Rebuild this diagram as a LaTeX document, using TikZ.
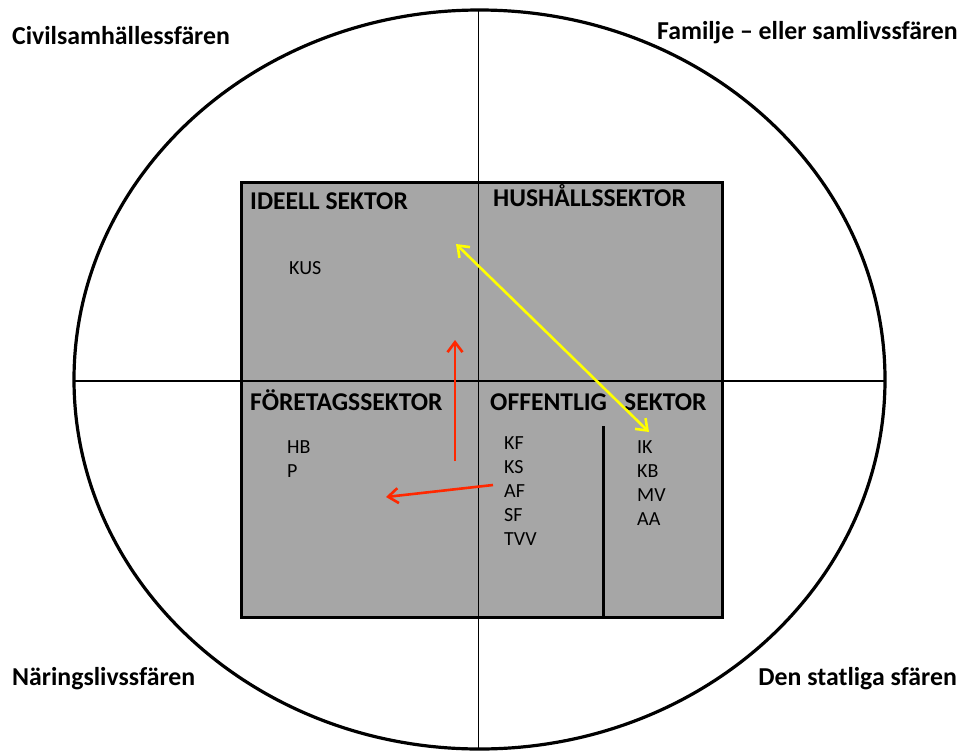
\documentclass[tikz,border=0pt]{standalone}
\usepackage{fontspec}
\setmainfont{Carlito}
\usetikzlibrary{arrows.meta}
\definecolor{boxgray}{RGB}{166,166,166}
\definecolor{arrred}{RGB}{255,40,0}
\definecolor{arryellow}{RGB}{255,255,0}
\tikzset{
  sphere/.style={inner sep=0pt,font=\fontsize{25.8}{30}\selectfont\bfseries},
  sector/.style={inner sep=0pt,anchor=base west,font=\fontsize{25.6}{30}\selectfont\bfseries},
  item/.style={inner sep=0pt,anchor=base west,font=\fontsize{20}{24}\selectfont},
  frame/.style={line width=3pt},
  axis/.style={line width=1.9pt},
  barb/.tip={Straight Barb[length=10pt,width=15pt,line width=2.6pt]},
  redarrow/.style={draw=arrred,line width=2.6pt,-barb},
  yelarrow/.style={draw=arryellow,line width=2.6pt,barb-barb}
}
\begin{document}
\begin{tikzpicture}[x=1pt,y=-1pt]
\useasboundingbox (0,0) rectangle (961,750);
\fill[white] (0,0) rectangle (961,750);
% outer ellipse
\draw[line width=3.2pt] (479.5,379.5) ellipse [x radius=405.5, y radius=369.5];
% central box
\filldraw[fill=boxgray,frame] (241,182) rectangle (722,617);
% axes
\draw[axis] (478.5,10) -- (478.5,749);
\draw[axis] (74,381) -- (885,381);
% inner divider
\draw[frame] (603,426) -- (603,617);
% sphere labels
\node[sphere,anchor=base west] (civ) at (12,44) {Civilsamhällessfären};
\node[sphere,anchor=base east] (fam) at (958,39) {Familje – eller samlivssfären};
\node[sphere,anchor=base west] (nar) at (12,685) {Näringslivssfären};
\node[sphere,anchor=base east] (sta) at (957,685) {Den statliga sfären};
% sector labels
\node[sector] (ideell) at (250,209) {IDEELL SEKTOR};
\node[sector] (hush) at (493,206) {HUSHÅLLSSEKTOR};
\node[sector] (foret) at (250,410) {FÖRETAGSSEKTOR};
\node[sector] (offa) at (490,410) {OFFENTLIG};
\node[sector] (offb) at (624,410) {SEKTOR};
% items
\node[item] (kus) at (289,274) {KUS};
\node[item] (hb) at (287,453) {HB};
\node[item] (p) at (287,477) {P};
\node[item] (kf) at (504,449) {KF};
\node[item] (ks) at (504,473) {KS};
\node[item] (af) at (504,497) {AF};
\node[item] (sf) at (504,521) {SF};
\node[item] (tvv) at (504,545) {TVV};
\node[item] (ik) at (637,453) {IK};
\node[item] (kb) at (637,477) {KB};
\node[item] (mv) at (637,501) {MV};
\node[item] (aa) at (637,525) {AA};
% arrow endpoints
\coordinate (y1) at (456,244);
\coordinate (y2) at (649,432);
\coordinate (r1) at (455,461);
\coordinate (r2) at (455,340);
\coordinate (r3) at (493,485);
\coordinate (r4) at (386,497);
\draw[yelarrow] (y1) -- (y2);
\draw[redarrow] (r1) -- (r2);
\draw[redarrow] (r3) -- (r4);
\end{tikzpicture}
\end{document}
